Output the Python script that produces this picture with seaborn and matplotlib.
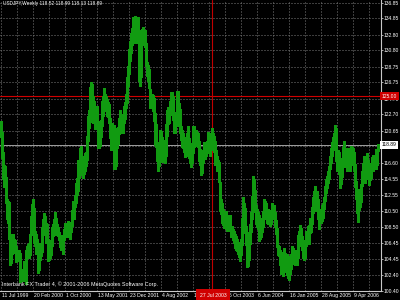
import numpy as np
import pandas as pd
import matplotlib
matplotlib.use("Agg")
import matplotlib.pyplot as plt
import matplotlib.transforms as mtransforms
import seaborn as sns

# ---------------- data (weekly USDJPY bars) ----------------
H99 = [121.9,120.5,118.0,116.3,116.2,114.8,112.0,111.8,111.6,107.6,106.5,107.0,107.6,107.0,106.8,106.0,105.3,105.6,105.5,105.2,103.0,103.0,103.2,104.1,102.8]
L99 = [119.8,117.2,114.5,113.5,113.8,111.5,109.5,109.0,107.0,103.6,103.9,105.0,105.3,105.8,105.2,104.0,104.1,104.5,104.5,101.5,101.8,101.7,101.6,101.9,101.8]

H00 = [105.5,106.0,106.3,106.5,107.6, 109.9,111.4,112.0,110.9, 107.9,107.6,106.9,106.5,
       106.0,106.0,106.4,108.5,109.5, 110.2,109.8,109.0,108.8, 107.0,106.8,106.3,106.5,
       108.4,108.8,109.5,110.3,109.6, 108.8,108.5,107.8,107.4, 106.8,107.4,107.2,108.2,
       109.0,108.6,108.5,109.2,109.1, 108.3,109.0,110.6,111.8, 111.4,112.5,114.0,114.6,117.0]
L00 = [101.3,104.5,104.5,104.6,104.9, 107.5,108.8,110.3,106.4, 106.0,105.1,105.0,102.6,
       103.0,104.3,104.8,105.3,107.8, 107.5,107.6,106.5,106.4, 104.2,104.3,104.5,104.9,
       106.0,107.3,107.5,108.1,107.4, 107.4,107.3,106.8,105.9, 105.5,105.8,105.0,106.8,
       107.8,107.3,107.2,107.8,107.5, 106.9,107.8,108.6,109.9, 109.5,111.0,111.5,112.5,113.0]

H01 = [117.0,118.4,118.7,117.1, 116.8,117.5,117.8,118.0, 120.0,122.5,123.3,126.2,
       126.8,126.5,125.0,124.4,123.0, 123.8,123.8,121.9,120.8, 121.2,122.0,124.4,125.0,
       126.0,125.3,125.0,124.6,124.3, 124.0,122.3,120.5,121.6, 121.3,121.4,118.5,119.9,121.0,
       121.1,122.2,123.3,122.5, 122.6,122.8,123.8,124.3, 125.3,127.4,128.9,131.0,132.0]
L01 = [114.6,116.5,116.0,115.0, 114.6,115.2,115.5,116.2, 117.0,119.3,121.0,121.8,
       123.8,123.2,121.6,121.6,120.9, 121.3,121.4,118.5,118.4, 118.7,119.9,121.3,122.5,
       123.8,123.5,123.2,122.5,122.4, 121.6,119.7,118.2,118.9, 118.7,115.8,115.8,116.2,118.4,
       119.0,120.2,121.3,120.8, 120.3,120.4,121.6,122.1, 123.5,124.2,126.3,127.8,129.5]

H02 = [133.0,133.6,135.0,134.8, 135.2,134.3,134.6,135.0, 133.4,128.5,132.0,133.5,133.8,
       133.2,133.4,131.8,129.4, 129.0,128.5,125.9,125.3, 125.3,125.2,124.8,122.9,121.5,
       119.1,117.6,119.2,120.7, 120.6,119.8,119.5,119.5, 119.1,121.5,123.3,123.7,123.4,
       124.4,125.6,125.5,125.0, 122.4,122.3,123.0,125.7, 125.7,124.2,123.4,121.2,120.7]
L02 = [130.5,131.5,131.8,132.2, 132.8,131.8,132.4,133.0, 127.0,126.3,127.5,131.5,131.8,
       131.6,131.3,128.8,127.6, 127.0,126.0,123.5,123.7, 123.6,123.1,121.9,118.8,118.6,
       116.8,115.6,116.2,118.0, 118.0,116.7,117.5,117.7, 116.5,117.5,120.0,121.5,121.6,
       122.6,123.2,123.6,122.0, 120.4,120.3,121.3,122.0, 123.7,121.3,120.3,119.5,118.6]

H03 = [120.4,119.8,119.2,119.4, 120.3,121.3,119.7,119.1, 118.3,118.3,121.3,121.2,120.6,
       120.8,120.5,120.4,119.3, 118.3,117.0,117.2,118.2, 119.2,118.7,118.8,119.3,120.5,
       120.0,119.2,120.4,121.0, 120.3,120.0,119.3,118.2,117.4, 117.0,116.7,114.2,112.0,
       111.5,110.8,110.2,110.0, 110.5,110.0,109.7,109.9,110.0, 108.5,108.6,108.2,108.0]
L03 = [118.5,118.0,117.3,117.5, 118.5,119.3,117.2,116.6, 116.0,116.5,117.8,118.6,118.7,
       119.3,118.8,118.6,116.8, 116.3,115.0,115.3,116.6, 117.6,117.1,117.4,117.8,118.6,
       118.0,117.5,118.2,119.5, 118.6,118.0,116.3,116.5,115.5, 115.5,114.2,110.5,110.1,
       109.0,108.7,108.3,108.6, 108.2,107.9,107.9,108.8,108.5, 107.2,107.2,106.8,106.5]

H04 = [107.6,107.3,107.0,106.6, 106.2,106.2,106.9,109.6,112.2, 111.5,110.9,108.6,107.0,
       106.8,107.8,108.8,110.4, 112.4,114.9,114.5,113.2,111.2, 110.8,110.3,110.0,109.6,
       109.5,109.5,110.5,112.0, 111.8,111.5,110.8,110.8,110.6, 110.2,110.5,111.5,111.2,
       111.3,110.4,109.4,108.3,106.2, 106.0,105.5,104.4,104.0, 105.3,105.8,105.2,104.4]
L04 = [105.8,105.5,105.4,105.1, 104.7,104.2,104.9,106.2,108.8, 109.5,107.7,106.2,103.4,
       103.5,104.3,106.3,107.8, 109.5,111.4,111.8,110.3,108.8, 108.4,108.2,106.7,106.9,
       107.2,107.8,108.5,109.5, 109.6,109.6,109.0,108.8,108.8, 108.6,108.8,109.9,109.8,
       109.5,108.5,107.6,105.9,104.9, 104.8,103.7,102.5,102.6, 102.3,104.0,103.5,102.8]

H05 = [105.0,104.8,103.5,104.0,105.0, 106.0,105.8,105.6,105.2, 105.6,105.3,107.5,108.0,
       108.7,108.3,107.3,106.8, 105.8,106.8,107.9,107.7,108.6, 108.7,109.6,109.4,111.0,
       112.2,113.0,113.7,112.8,113.0, 112.0,110.2,110.8,110.5, 111.3,111.5,112.3,113.6,
       114.5,114.9,115.5,116.2,117.5, 118.5,119.2,119.8,120.4, 121.4,121.0,118.2,118.2]
L05 = [102.4,102.0,101.7,102.5,103.2, 104.3,104.2,103.8,103.7, 103.6,103.6,104.5,106.5,
       106.8,106.0,105.5,104.6, 104.3,104.6,106.0,106.3,106.8, 106.3,107.7,107.8,108.8,
       110.2,111.0,110.5,110.8,111.5, 109.5,108.2,109.2,109.0, 109.2,109.6,110.7,111.8,
       112.8,113.4,114.0,114.5,115.8, 116.5,117.5,118.2,118.8, 119.6,116.8,115.5,116.8]

H06 = [118.0,115.8,116.0,117.2,118.6, 119.4,118.3,118.3,118.5, 118.4,118.3,117.7,118.7,
       118.6,118.5,118.0,116.4,114.3, 112.2,111.5,113.3,113.2, 113.9,115.5,116.5,117.4,
       116.2,117.0,117.8,116.9,115.6, 115.5,116.5,117.3,117.6, 117.3,117.6,118.3,118.2, 119.0]
L06 = [115.2,113.4,113.9,114.8,116.8, 117.5,116.0,116.5,115.5, 116.5,115.8,115.6,116.3,
       116.8,116.8,115.6,113.5,112.0, 110.2,109.1,110.6,111.0, 111.6,113.6,114.7,114.3,
       114.0,114.7,115.8,114.5,113.8, 114.4,114.6,115.5,115.6, 115.8,116.3,115.8,116.3, 118.1]

price_ticks = [136.85, 134.85, 132.80, 130.80, 128.75, 126.75, 124.70, 122.70, 120.65,
               118.65, 116.60, 114.55, 112.55, 110.50, 108.50, 106.45, 104.45, 102.40, 100.40]
date_labels = ["11 Jul 1999", "20 Feb 2000", "1 Oct 2000", "13 May 2001", "23 Dec 2001",
               "4 Aug 2002", "16 Mar 2003", "26 Oct 2003", "6 Jun 2004", "16 Jan 2005",
               "28 Aug 2005", "9 Apr 2006"]
date_weeks = [0, 32, 64, 96, 128, 160, 192, 224, 256, 288, 320, 352]
title_text = "USDJPY,Weekly 118.52 118.99 118.13 118.89"
footer_text = "Interbank FX Trader 4, \u00a9 2001-2006 MetaQuotes Software Corp."
bid_price = 118.89
hline_price = 125.00
vline_week = 211
vline_label = "27 Jul 2003"

high = H99 + H00 + H01 + H02 + H03 + H04 + H05 + H06
low = L99 + L00 + L01 + L02 + L03 + L04 + L05 + L06
df = pd.DataFrame({"week": np.arange(len(high)), "high": high, "low": low})

# ---------------- style ----------------
sns.set_theme(style="dark", rc={
    "axes.facecolor": "black", "figure.facecolor": "black",
    "axes.edgecolor": "#c8c8c8", "text.color": "white",
    "xtick.color": "white", "ytick.color": "white",
})
plt.rcParams["font.family"] = ["Liberation Sans", "DejaVu Sans"]
FS_AX = 3.6     # price labels
FS_DATE = 3.7
FS_FOOT = 3.9
FS_HEAD = 3.4

W, Hpx = 400, 300
fig = plt.figure(figsize=(4, 3), dpi=100)
ax_left, ax_right, ax_top, ax_bot = 0, 381, 0, 290.7
ax = fig.add_axes([ax_left / W, 1 - ax_bot / Hpx, (ax_right - ax_left) / W, (ax_bot - ax_top) / Hpx])
ax.set_facecolor("black")

ax.set_xlim(-1, 380)
ax.set_ylim(100.40, 137.19)

# grid
grid_kw = dict(color="#7a7a7a", lw=0.72, linestyle=(0, (1, 2)), zorder=1)
for p in price_ticks:
    ax.axhline(p, **grid_kw)
for w in range(0, 380, 16):
    ax.axvline(w, **grid_kw)

# bid line + user lines
ax.axhline(bid_price, color="#9a9a9a", lw=0.72, zorder=2)
ax.axhline(hline_price, color="#d00000", lw=0.8, zorder=2)
ax.axvline(vline_week, color="#c00000", lw=0.8, zorder=2)

# bars
ax.vlines(df["week"], df["low"], df["high"], color="#119b11", lw=0.75, antialiased=False, zorder=3)

# spines
for s in ["top", "left"]:
    ax.spines[s].set_visible(False)
for s in ["right", "bottom"]:
    ax.spines[s].set_visible(True)
    ax.spines[s].set_color("#c8c8c8")
    ax.spines[s].set_linewidth(0.8)

ax.yaxis.tick_right()
ax.set_yticks(price_ticks)
ax.set_yticklabels([f"{p:.2f}" for p in price_ticks], fontsize=FS_AX, color="white")
ax.tick_params(axis="y", length=1.2, width=0.6, pad=0.8, color="#c8c8c8")
ax.set_xticks([])
ax.grid(False)

# date labels
trans = mtransforms.blended_transform_factory(ax.transData, ax.transAxes)
for w, lab in zip(date_weeks, date_labels):
    ax.text(w + 0.5, -0.008, lab, transform=trans, ha="left", va="top", fontsize=FS_DATE,
            color="white", clip_on=False)

# red date label of vertical line
ax.text(vline_week + 1, -0.008, vline_label, transform=trans, ha="center", va="top",
        fontsize=FS_DATE, color="white", clip_on=False, zorder=10,
        bbox=dict(boxstyle="square,pad=0.7", fc="#d00000", ec="none"))

# price labels for bid and red line
trans_y = mtransforms.blended_transform_factory(ax.transAxes, ax.transData)
ax.text(1.002, bid_price, f"{bid_price:.2f}", transform=trans_y, ha="left", va="center",
        fontsize=FS_AX, color="black", clip_on=False, zorder=10,
        bbox=dict(boxstyle="square,pad=0.3", fc="white", ec="none"))
ax.text(1.002, hline_price, f"{hline_price:.2f}", transform=trans_y, ha="left", va="center",
        fontsize=FS_AX, color="white", clip_on=False, zorder=10,
        bbox=dict(boxstyle="square,pad=0.3", fc="#d00000", ec="none"))

# header and footer
fig.text(3 / W, 1 - 4 / Hpx, title_text, ha="left", va="center", fontsize=FS_HEAD, color="white")
fig.text(2 / W, 1 - 284 / Hpx, footer_text, ha="left", va="center", fontsize=FS_FOOT, color="white")

fig.savefig("out.png", dpi=100, facecolor="black")
